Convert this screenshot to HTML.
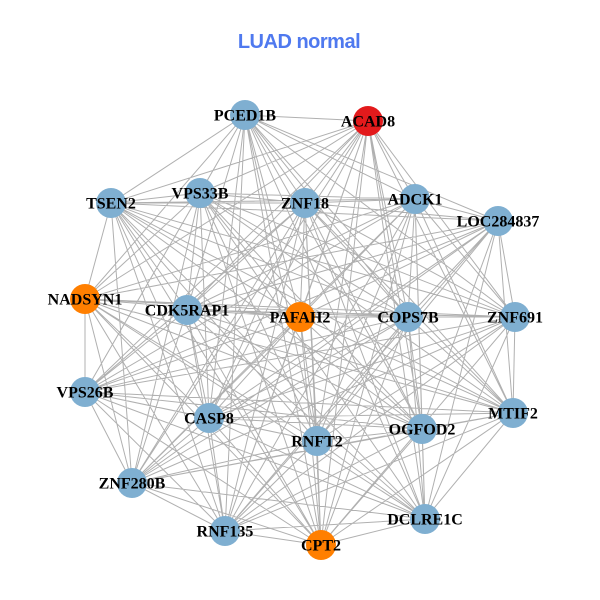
<!DOCTYPE html>
<html><head><meta charset="utf-8"><style>
html,body{margin:0;padding:0;background:#fff;}
svg{display:block;}
.t{font-family:"Liberation Sans",sans-serif;font-weight:bold;font-size:20px;fill:#4f79ef;letter-spacing:-0.5px;}
.l{font-family:"Liberation Serif",serif;font-weight:bold;font-size:16px;fill:#000;}
</style></head><body>
<svg id="s" width="600" height="600" viewBox="0 0 600 600" xmlns="http://www.w3.org/2000/svg">
<rect width="600" height="600" fill="#fff"/>
<text class="t" x="299" y="48" text-anchor="middle">LUAD normal</text>
<g id="edges" stroke="#b0b0b0" stroke-width="1" fill="none"></g>
<g id="nodes"></g>
</svg>
<script>
var N=[
["PCED1B",245,115,"#7fafd1"],
["ACAD8",368,121,"#e31a1c"],
["TSEN2",111,203,"#7fafd1"],
["VPS33B",200,193,"#7fafd1"],
["ZNF18",305,203,"#7fafd1"],
["ADCK1",415,199,"#7fafd1"],
["LOC284837",498,221,"#7fafd1"],
["NADSYN1",85,299,"#ff7f00"],
["CDK5RAP1",187,310,"#7fafd1"],
["PAFAH2",300,317,"#ff7f00"],
["COPS7B",408,317,"#7fafd1"],
["ZNF691",515,317,"#7fafd1"],
["VPS26B",85,392,"#7fafd1"],
["CASP8",209,418,"#7fafd1"],
["RNFT2",317,441,"#7fafd1"],
["OGFOD2",422,429,"#7fafd1"],
["MTIF2",513,413,"#7fafd1"],
["ZNF280B",132,483,"#7fafd1"],
["RNF135",225,531,"#7fafd1"],
["CPT2",321,545,"#ff7f00"],
["DCLRE1C",425,519,"#7fafd1"]
];
var ns="http://www.w3.org/2000/svg";
var d="";
for(var i=0;i<N.length;i++){for(var j=i+1;j<N.length;j++){
 if((i*7+j*13)%17==0) continue;
 d+="M"+N[i][1]+" "+N[i][2]+"L"+N[j][1]+" "+N[j][2];
}}
var p=document.createElementNS(ns,"path");p.setAttribute("d",d);
document.getElementById("edges").appendChild(p);
var g=document.getElementById("nodes");
for(var k=0;k<N.length;k++){
 var c=document.createElementNS(ns,"circle");
 c.setAttribute("cx",N[k][1]);c.setAttribute("cy",N[k][2]);c.setAttribute("r",15);
 c.setAttribute("fill",N[k][3]);g.appendChild(c);
}
</script>
<div style="position:absolute;left:0;top:0;width:600px;height:600px;pointer-events:none">
<svg width="600" height="600" viewBox="0 0 600 600" xmlns="http://www.w3.org/2000/svg">
<g class="l" text-anchor="middle">
<text x="245" y="120.5">PCED1B</text>
<text x="368" y="126.5">ACAD8</text>
<text x="111" y="208.5">TSEN2</text>
<text x="200" y="198.5">VPS33B</text>
<text x="305" y="208.5">ZNF18</text>
<text x="415" y="204.5">ADCK1</text>
<text x="498" y="226.5">LOC284837</text>
<text x="85" y="304.5">NADSYN1</text>
<text x="187" y="315.5">CDK5RAP1</text>
<text x="300" y="322.5">PAFAH2</text>
<text x="408" y="322.5">COPS7B</text>
<text x="515" y="322.5">ZNF691</text>
<text x="85" y="397.5">VPS26B</text>
<text x="209" y="423.5">CASP8</text>
<text x="317" y="446.5">RNFT2</text>
<text x="422" y="434.5">OGFOD2</text>
<text x="513" y="418.5">MTIF2</text>
<text x="132" y="488.5">ZNF280B</text>
<text x="225" y="536.5">RNF135</text>
<text x="321" y="550.5">CPT2</text>
<text x="425" y="524.5">DCLRE1C</text>
</g>
</svg>
</div>
</body></html>
